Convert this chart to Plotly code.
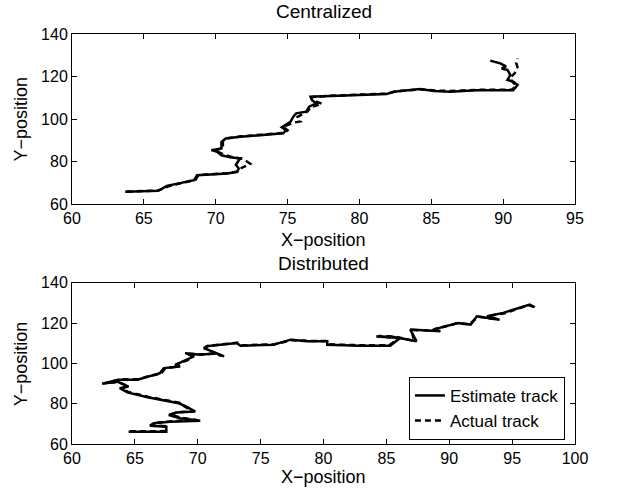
import plotly.graph_objects as go

# ---------------- Data ----------------
# Centralized (top) – estimate track
cen_est_x = [63.7, 66.0, 66.6, 68.5, 68.7, 70.8, 71.5, 71.6, 71.4, 71.7, 71.0, 70.4, 70.1, 69.7,
             70.4, 70.4, 70.7, 71.7, 74.7, 74.9, 74.6, 75.2, 75.4, 75.6, 76.3, 76.5, 77.0, 76.7,
             76.6, 77.7, 80.0, 81.9, 82.4, 84.2, 85.2, 86.3, 88.2, 90.7, 91.0, 90.7, 90.3, 90.5,
             90.3, 89.9, 90.2, 89.8, 89.1]
cen_est_y = [65.8, 66.3, 68.6, 71.3, 73.6, 74.4, 75.2, 76.8, 78.5, 81.5, 82.0, 83.0, 84.6, 85.4,
             86.2, 89.3, 90.9, 91.7, 93.3, 94.8, 96.1, 98.7, 101.1, 102.7, 103.5, 105.8, 107.4, 108.9,
             110.5, 110.8, 111.3, 111.8, 112.9, 114.1, 113.2, 112.9, 113.6, 113.6, 116.0, 117.6, 118.4, 120.7,
             123.1, 123.8, 124.8, 126.2, 127.5]

# Centralized (top) – actual track
cen_act_x = [63.8, 66.0, 66.7, 68.6, 68.8, 70.9, 71.6, 71.8, 72.4, 71.9, 71.1, 70.6, 70.2, 69.9,
             70.5, 70.5, 70.8, 71.8, 74.8, 75.0, 74.7, 75.4, 75.9, 75.7, 76.4, 76.6, 77.4, 76.9,
             76.7, 77.8, 80.0, 82.0, 82.5, 84.2, 85.3, 86.4, 88.3, 90.6, 90.9, 90.6, 90.5, 90.8,
             91.0, 90.9, 91.0]
cen_act_y = [65.9, 66.4, 68.4, 71.5, 73.7, 74.6, 75.4, 77.0, 79.0, 81.3, 82.2, 83.2, 84.4, 85.2,
             86.4, 89.4, 91.0, 91.9, 93.5, 94.7, 96.3, 98.3, 98.9, 101.0, 103.7, 105.6, 107.1, 108.6,
             110.4, 110.9, 111.5, 112.0, 113.0, 114.0, 113.4, 113.2, 113.8, 113.8, 115.5, 118.0, 119.5, 121.5,
             124.5, 126.5, 128.5]

# Distributed (bottom) – estimate track
dis_est_x = [64.5, 66.1, 67.5, 67.5, 66.2, 66.5, 67.8, 70.2, 68.6, 67.7, 68.3, 69.8, 69.1, 68.5,
             66.0, 64.4, 63.8, 64.5, 63.6, 62.4, 63.7, 65.2, 66.0, 67.0, 67.3, 68.6, 68.2, 69.1,
             69.7, 69.0, 70.2, 71.5, 72.1, 70.5, 70.7, 71.8, 73.1, 73.4, 76.0, 77.4, 78.7, 80.3,
             80.3, 82.9, 85.3, 86.1, 84.2, 85.6, 87.4, 86.9, 89.3, 88.7, 90.7, 91.7, 92.2, 94.0,
             93.0, 94.3, 96.4, 96.8]
dis_est_y = [66.1, 66.1, 66.1, 68.6, 69.1, 70.3, 71.1, 71.6, 72.8, 74.4, 75.6, 76.1, 78.6, 80.2,
             83.2, 85.6, 87.7, 88.5, 91.0, 89.9, 91.9, 91.9, 93.5, 95.2, 97.7, 98.5, 99.3, 101.8,
             103.5, 105.1, 104.3, 105.1, 103.5, 107.6, 108.5, 109.3, 110.1, 108.8, 109.3, 111.8, 111.0, 111.0,
             109.3, 108.8, 108.8, 112.6, 113.4, 113.1, 111.0, 116.8, 116.0, 116.8, 120.1, 119.3, 123.4, 121.7,
             123.4, 125.1, 129.2, 127.9]

# Distributed (bottom) – actual track
dis_act_x = [64.6, 66.2, 67.4, 67.4, 66.3, 66.6, 67.9, 70.0, 68.7, 67.8, 68.4, 69.7, 69.0, 68.6,
             66.1, 64.5, 63.9, 64.4, 63.7, 62.6, 63.8, 65.3, 66.1, 67.1, 67.4, 68.5, 68.3, 69.2,
             69.6, 69.1, 70.3, 71.4, 71.9, 70.6, 70.8, 71.9, 73.2, 73.5, 76.1, 77.5, 78.8, 80.2,
             80.4, 83.0, 85.2, 86.0, 84.4, 85.7, 87.2, 87.0, 89.2, 88.8, 90.6, 91.6, 92.3, 93.8,
             93.1, 94.4, 96.3, 96.7]
dis_act_y = [66.3, 66.3, 66.4, 68.8, 69.3, 70.5, 71.3, 71.8, 73.0, 74.6, 75.8, 76.3, 78.4, 80.4,
             83.4, 85.8, 87.5, 88.7, 90.8, 90.1, 92.1, 92.1, 93.7, 95.0, 97.5, 98.7, 99.5, 101.6,
             103.7, 104.9, 104.5, 104.9, 103.7, 107.4, 108.7, 109.5, 110.3, 109.0, 109.5, 111.6, 111.2, 111.2,
             109.5, 109.0, 109.0, 112.4, 113.6, 113.3, 111.2, 116.6, 116.2, 117.0, 119.9, 119.5, 123.2, 121.9,
             123.6, 124.9, 129.0, 128.1]

x_ticks_top = [60, 65, 70, 75, 80, 85, 90, 95]
x_ticks_bot = [60, 65, 70, 75, 80, 85, 90, 95, 100]
y_ticks = [60, 80, 100, 120, 140]

# ---------------- Figure ----------------
FONT = "Liberation Sans, Arial, Helvetica, sans-serif"
LW = 2.5

fig = go.Figure()
fig.add_trace(go.Scatter(x=cen_act_x, y=cen_act_y, mode="lines", xaxis="x", yaxis="y",
                         line=dict(color="black", width=LW, dash="6px,4px"), showlegend=False))
fig.add_trace(go.Scatter(x=cen_est_x, y=cen_est_y, mode="lines", xaxis="x", yaxis="y",
                         line=dict(color="black", width=LW), showlegend=False))
fig.add_trace(go.Scatter(x=dis_est_x, y=dis_est_y, mode="lines", xaxis="x2", yaxis="y2",
                         name="Estimate track", line=dict(color="black", width=LW)))
fig.add_trace(go.Scatter(x=dis_act_x, y=dis_act_y, mode="lines", xaxis="x2", yaxis="y2",
                         name="Actual track", line=dict(color="black", width=LW, dash="6px,4px")))

axis_common = dict(showline=True, linecolor="black", linewidth=1, mirror="ticks",
                   ticks="inside", ticklen=5, tickcolor="black", showgrid=False,
                   zeroline=False, tickfont=dict(size=16, color="black", family=FONT))

fig.update_layout(
    width=621, height=490,
    margin=dict(l=72, r=46, t=34, b=46),
    paper_bgcolor="white", plot_bgcolor="white",
    font=dict(family=FONT, color="black", size=16),
    xaxis=dict(domain=[0, 1], range=[60, 95], tickvals=x_ticks_top, anchor="y", **axis_common),
    yaxis=dict(domain=[0.585, 1], range=[60, 140], tickvals=y_ticks, anchor="x", **axis_common),
    xaxis2=dict(domain=[0, 1], range=[60, 100], tickvals=x_ticks_bot, anchor="y2", **axis_common),
    yaxis2=dict(domain=[0, 0.393], range=[60, 140], tickvals=y_ticks, anchor="x2", **axis_common),
    legend=dict(x=0.98, y=0.01, xanchor="right", yanchor="bottom",
                bordercolor="black", borderwidth=1, bgcolor="white",
                font=dict(size=17, color="black", family=FONT),
                tracegroupgap=0, itemwidth=30),
    annotations=[
        dict(text="Centralized", x=0.5, y=1.056, xref="paper", yref="paper",
             showarrow=False, xanchor="center", yanchor="middle", font=dict(size=19)),
        dict(text="Distributed", x=0.5, y=0.441, xref="paper", yref="paper",
             showarrow=False, xanchor="center", yanchor="middle", font=dict(size=19)),
        dict(text="X\u2212position", x=0.5, y=0.4976, xref="paper", yref="paper",
             showarrow=False, xanchor="center", yanchor="middle", font=dict(size=18)),
        dict(text="X\u2212position", x=0.5, y=-0.080, xref="paper", yref="paper",
             showarrow=False, xanchor="center", yanchor="middle", font=dict(size=18)),
        dict(text="Y\u2212position", x=-0.102, y=0.793, xref="paper", yref="paper",
             showarrow=False, xanchor="center", yanchor="middle", textangle=-90, font=dict(size=18)),
        dict(text="Y\u2212position", x=-0.102, y=0.196, xref="paper", yref="paper",
             showarrow=False, xanchor="center", yanchor="middle", textangle=-90, font=dict(size=18)),
    ],
)

# remove the default 8px page margin so the figure fills the window exactly
fig.write_html("out.html", config={"displayModeBar": False},
               post_script="document.body.style.margin='0';")
